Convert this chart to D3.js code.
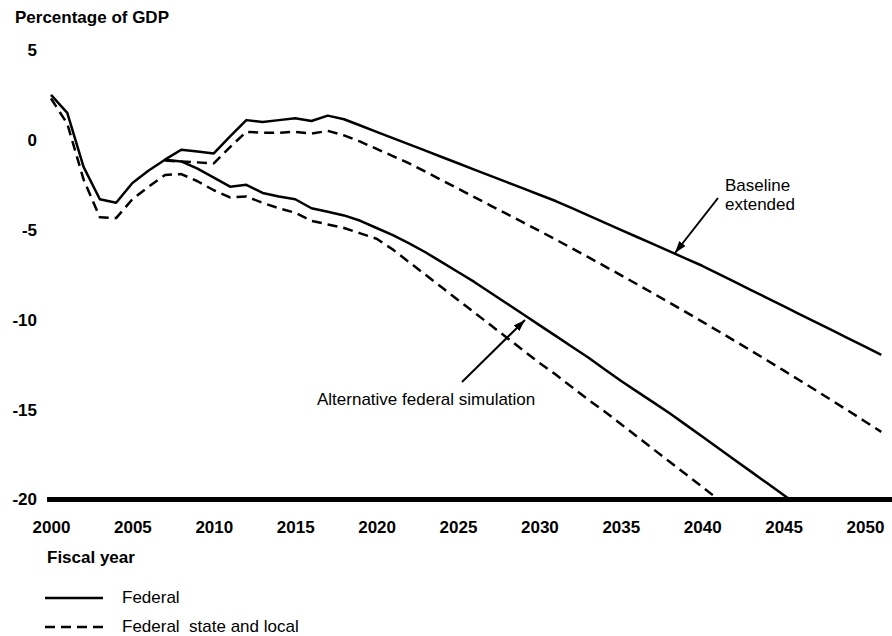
<!DOCTYPE html>
<html><head><meta charset="utf-8">
<script src="https://cdn.jsdelivr.net/npm/d3@7"></script>
<style>
body{margin:0;background:#fff}
text{font-family:"Liberation Sans",Arial,Helvetica,sans-serif;fill:#000}
</style>
</head><body>
<svg id="c" width="892" height="636"></svg>
<script>
// ---- data (percentage of GDP) ----
const fedBaselineYears = d3.range(2000, 2052);
const fedBaseline = [2.5, 1.5, -1.5, -3.3, -3.5, -2.4, -1.7, -1.1, -0.55, -0.65,
  -0.75, 0.2, 1.1, 1.0, 1.1, 1.2, 1.05, 1.35, 1.15, 0.8,
  0.45, 0.1, -0.25, -0.6, -0.95, -1.3, -1.65, -2.0, -2.35, -2.7,
  -3.05, -3.4, -3.8, -4.2, -4.6, -5.0, -5.4, -5.8, -6.2, -6.6,
  -7.0, -7.45, -7.9, -8.35, -8.8, -9.25, -9.7, -10.15, -10.6, -11.05,
  -11.5, -11.95];
const fedAltYears = d3.range(2007, 2047);
const fedAlt = [-1.1, -1.2, -1.6,
  -2.1, -2.6, -2.5, -2.95, -3.15, -3.3, -3.8, -4.0, -4.2, -4.5,
  -4.9, -5.3, -5.75, -6.25, -6.8, -7.35, -7.9, -8.5, -9.1, -9.7,
  -10.3, -10.9, -11.5, -12.1, -12.75, -13.4, -14.0, -14.6, -15.2, -15.85,
  -16.5, -17.15, -17.8, -18.45, -19.1, -19.75, -20.4];
const fslAltYears = d3.range(2000, 2043);
const fslAlt = [2.3, 0.9, -2.2, -4.3, -4.35, -3.3, -2.6, -1.95, -1.9, -2.3,
  -2.8, -3.2, -3.15, -3.5, -3.8, -4.05, -4.5, -4.7, -4.9, -5.2,
  -5.5, -6.1, -6.8, -7.5, -8.2, -8.9, -9.6, -10.3, -11.0, -11.7,
  -12.4, -13.05, -13.75, -14.45, -15.1, -15.8, -16.5, -17.2, -17.9, -18.6,
  -19.3, -20.0, -20.7];
const fslBaselineYears = d3.range(2007, 2052);
const fslBaseline = [-1.15, -1.2, -1.25,
  -1.3, -0.4, 0.45, 0.4, 0.4, 0.45, 0.35, 0.5, 0.25, -0.1,
  -0.5, -0.9, -1.3, -1.77, -2.24, -2.71, -3.18, -3.65, -4.12, -4.59,
  -5.06, -5.54, -6.03, -6.52, -7.02, -7.52, -8.03, -8.54, -9.06, -9.58,
  -10.11, -10.64, -11.18, -11.72, -12.27, -12.82, -13.38, -13.94, -14.51, -15.08,
  -15.66, -16.24];
const xTicks = d3.range(2000, 2051, 5);
const yTicks = [5, 0, -5, -10, -15, -20];
const legendItems = ["Federal", "Federal  state and local"];

// ---- drawing ----
const svg = d3.select("#c");
const x = d3.scaleLinear().domain([2000, 2050]).range([51, 865]);
const y = d3.scaleLinear().domain([-20, 5]).range([499.5, 50]);

const defs = svg.append("defs");
defs.append("clipPath").attr("id", "clip")
  .append("rect").attr("x", 0).attr("y", 0).attr("width", 892).attr("height", y(-20));
defs.append("marker").attr("id", "ah").attr("viewBox", "0 0 12 10")
  .attr("refX", 12).attr("refY", 5).attr("markerWidth", 12).attr("markerHeight", 10)
  .attr("markerUnits", "userSpaceOnUse").attr("orient", "auto")
  .append("path").attr("d", "M0,1 L12,5 L0,9 Z").attr("fill", "#000");

svg.append("text").attr("x", 15).attr("y", 23)
  .style("font-weight", "bold").style("font-size", "17px").text("Percentage of GDP");

// y axis labels
const yAxis = d3.axisLeft(y).tickValues(yTicks).tickSize(0).tickPadding(0)
  .tickFormat(d => d);
const ya = svg.append("g").attr("transform", "translate(37,0)").call(yAxis);
ya.select(".domain").remove();
ya.selectAll("text").style("font-weight", "bold").style("font-size", "17px")
  .style("font-family", "'Liberation Sans',Arial,sans-serif").attr("fill", "#000");

// x axis labels
const xAxis = d3.axisBottom(x).tickValues(xTicks).tickSize(0).tickPadding(0)
  .tickFormat(d3.format("d"));
const xa = svg.append("g").attr("transform", "translate(0,521)").call(xAxis);
xa.select(".domain").remove();
xa.selectAll("text").style("font-weight", "bold").style("font-size", "17px")
  .style("font-family", "'Liberation Sans',Arial,sans-serif").attr("fill", "#000");

// thick line at -20
svg.append("line").attr("x1", 47).attr("x2", 892)
  .attr("y1", y(-20)).attr("y2", y(-20))
  .attr("stroke", "#000").attr("stroke-width", 5);

const line = d3.line().x(d => x(d[0])).y(d => y(d[1]));
const series = [
  {yrs: fedBaselineYears, v: fedBaseline, dash: null},
  {yrs: fedAltYears, v: fedAlt, dash: null},
  {yrs: fslAltYears, v: fslAlt, dash: "10,6"},
  {yrs: fslBaselineYears, v: fslBaseline, dash: "10,6"}
];
const g = svg.append("g").attr("clip-path", "url(#clip)");
series.forEach(s => {
  g.append("path").datum(s.yrs.map((yr, i) => [yr, s.v[i]]))
    .attr("d", line).attr("fill", "none").attr("stroke", "#000")
    .attr("stroke-width", 2.5).attr("stroke-linejoin", "round")
    .attr("stroke-dasharray", s.dash);
});

// annotations
svg.append("text").attr("x", 725).attr("y", 191).style("font-size", "17px").text("Baseline");
svg.append("text").attr("x", 725).attr("y", 210).style("font-size", "17px").text("extended");
svg.append("line").attr("x1", 718).attr("y1", 198).attr("x2", 675).attr("y2", 253)
  .attr("stroke", "#000").attr("stroke-width", 2).attr("marker-end", "url(#ah)");
svg.append("text").attr("x", 317).attr("y", 405).style("font-size", "17px")
  .text("Alternative federal simulation");
svg.append("line").attr("x1", 462).attr("y1", 382).attr("x2", 525).attr("y2", 320)
  .attr("stroke", "#000").attr("stroke-width", 2).attr("marker-end", "url(#ah)");

// x title
svg.append("text").attr("x", 47).attr("y", 563)
  .style("font-weight", "bold").style("font-size", "17px").text("Fiscal year");

// legend
const lg = svg.append("g");
legendItems.forEach((t, i) => {
  const yy = 598 + i * 29;
  lg.append("line").attr("x1", 45).attr("x2", 103).attr("y1", yy).attr("y2", yy)
    .attr("stroke", "#000").attr("stroke-width", 2.6)
    .attr("stroke-dasharray", i === 1 ? "10,6" : null);
  lg.append("text").attr("x", 122).attr("y", yy + 5).style("font-size", "17px")
    .style("white-space", "pre").text(t);
});
</script>
</body></html>
